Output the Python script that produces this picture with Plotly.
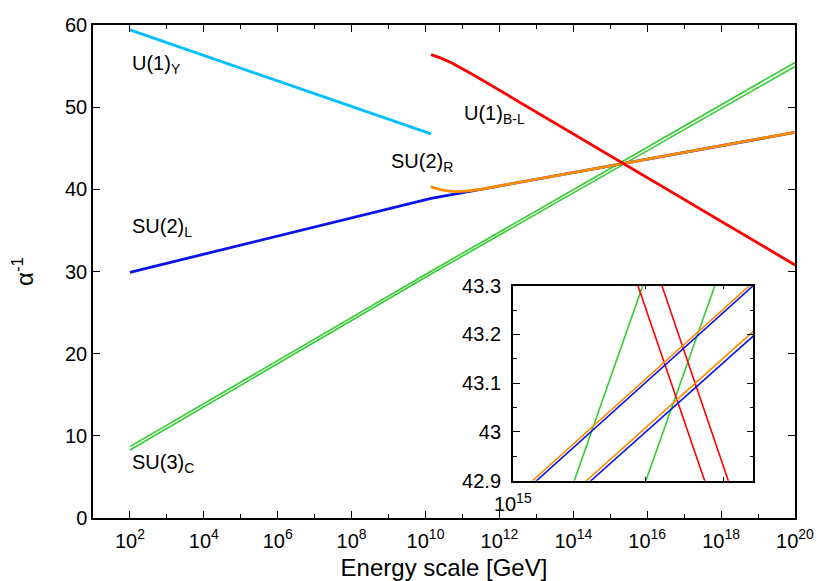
import plotly.graph_objects as go

# energies as log10(E / GeV), inverse couplings alpha^-1
# two nearly identical scenarios (a, b) per gauge group
u1y_logE = [2.0, 10.15]
u1y_a = [59.4, 46.75]

su2l_logE = [2.0, 10.15, 15.0, 15.6, 20.0]
su2l_a = [29.9, 38.90, 42.856, 43.346, 46.93]
su2l_b = [29.9, 38.83, 42.757, 43.242, 46.80]

su2r_logE = [10.14, 10.4, 10.6, 10.85, 11.1, 11.5, 15.0, 15.6, 20.0]
su2r_a = [40.33, 39.95, 39.80, 39.72, 39.78, 40.01, 42.863, 43.353, 46.94]
su2r_b = [40.28, 39.90, 39.75, 39.66, 39.71, 39.92, 42.764, 43.252, 46.82]

su3c_logE = [2.0, 10.15, 15.0, 15.6, 20.0]
su3c_a = [8.68, 30.03, 42.541, 44.09, 55.44]
su3c_b = [8.27, 29.69, 42.128, 43.667, 54.95]

ubl_logE = [10.15, 10.4, 10.7, 11.0, 11.3, 11.6, 15.0, 15.6, 20.0]
ubl_a = [56.40, 56.00, 55.40, 54.70, 53.92, 53.13, 44.05, 42.46, 30.80]
ubl_b = [56.45, 56.07, 55.49, 54.81, 54.04, 53.26, 44.20, 42.60, 30.94]

x_major_exp = [2, 4, 6, 8, 10, 12, 14, 16, 18, 20]
x_minor_exp = [1, 3, 5, 7, 9, 11, 13, 15, 17, 19]
y_ticks = [0, 10, 20, 30, 40, 50, 60]

inset_y_ticks = [42.9, 43.0, 43.1, 43.2, 43.3]
inset_y_labels = ["42.9", "43", "43.1", "43.2", "43.3"]
inset_y_minor = [42.95, 43.05, 43.15, 43.25]
inset_x_exp = 15
inset_x_minor = [2e15, 3e15]

labels = [
    ("U(1)<sub>Y</sub>", 2.0, 55.2),
    ("SU(2)<sub>L</sub>", 2.0, 35.3),
    ("SU(3)<sub>C</sub>", 2.0, 6.6),
    ("U(1)<sub>B-L</sub>", 10.99, 49.1),
    ("SU(2)<sub>R</sub>", 9.01, 43.3),
]

CYAN = "#00bfff"
BLUE = "#0a14e6"
ORANGE = "#ff8c00"
GREEN = "#33cc33"
RED = "#ff0000"
FONT = "Liberation Sans"


def gev(exps):
    return [10.0 ** e for e in exps]


fig = go.Figure()

# main panel; green drawn as a double line
curves = [
    (su3c_logE, su3c_a, GREEN, 1.6),
    (su3c_logE, su3c_b, GREEN, 1.6),
    (u1y_logE, u1y_a, CYAN, 2.8),
    (su2l_logE, su2l_a, BLUE, 2.8),
    (su2r_logE, su2r_a, ORANGE, 2.8),
    (ubl_logE, ubl_a, RED, 2.8),
]
for xs, ys, col, w in curves:
    fig.add_trace(go.Scatter(x=gev(xs), y=ys, mode="lines",
                             line=dict(color=col, width=w),
                             xaxis="x", yaxis="y", showlegend=False))

# inset
inset_curves = [
    (su3c_logE, su3c_a, GREEN),
    (su3c_logE, su3c_b, GREEN),
    (ubl_logE, ubl_a, RED),
    (ubl_logE, ubl_b, RED),
    (su2r_logE, su2r_a, ORANGE),
    (su2r_logE, su2r_b, ORANGE),
    (su2l_logE, su2l_a, BLUE),
    (su2l_logE, su2l_b, BLUE),
]
for xs, ys, col in inset_curves:
    fig.add_trace(go.Scatter(x=gev(xs), y=ys, mode="lines",
                             line=dict(color=col, width=1.6),
                             xaxis="x2", yaxis="y2", showlegend=False))

for txt, lx, ly in labels:
    fig.add_annotation(x=lx, y=ly, xref="x", yref="y", text=txt,
                       showarrow=False, xanchor="left", yanchor="middle",
                       font=dict(size=20, color="black", family=FONT))

frame = dict(showline=True, linecolor="black", linewidth=1.5, mirror="ticks",
             ticks="inside", ticklen=7, tickwidth=1.2, tickcolor="black",
             showgrid=False, zeroline=False, automargin=False)

# the page body adds an 8px offset, so the figure is a bit smaller than the window
fig.update_layout(
    width=822, height=573,
    margin=dict(l=85, r=35, t=17, b=63),
    paper_bgcolor="white", plot_bgcolor="white",
    font=dict(family=FONT, size=20, color="black"),
    xaxis=dict(type="log", range=[1, 20], domain=[0, 1],
               tickmode="array", tickvals=gev(x_major_exp),
               ticktext=[f"10<sup>{e}</sup>" for e in x_major_exp],
               ticklabelstandoff=4,
               minor=dict(tickmode="array", tickvals=gev(x_minor_exp),
                          ticks="inside", ticklen=4, tickcolor="black"),
               title=dict(text="Energy scale [GeV]", standoff=10),
               **frame),
    yaxis=dict(range=[0, 60], domain=[0, 1], tickmode="array", tickvals=y_ticks,
               title=dict(text="\u03b1<sup>-1</sup>", standoff=27),
               **frame),
    xaxis2=dict(type="log", range=[15, 15.544], domain=[0.598, 0.9406],
                anchor="y2", tickmode="array", tickvals=[10.0 ** inset_x_exp],
                ticktext=[f"10<sup>{inset_x_exp}</sup>"],
                ticklabelstandoff=5,
                minor=dict(tickmode="array", tickvals=inset_x_minor,
                           ticks="inside", ticklen=4, tickcolor="black"),
                **frame),
    yaxis2=dict(range=[42.9, 43.3], domain=[0.0757, 0.4712], anchor="x2",
                tickmode="array", tickvals=inset_y_ticks, ticktext=inset_y_labels,
                ticklabelstandoff=6,
                minor=dict(tickmode="array", tickvals=inset_y_minor,
                           ticks="inside", ticklen=4, tickcolor="black"),
                **frame),
)

fig.write_html("out.html")
